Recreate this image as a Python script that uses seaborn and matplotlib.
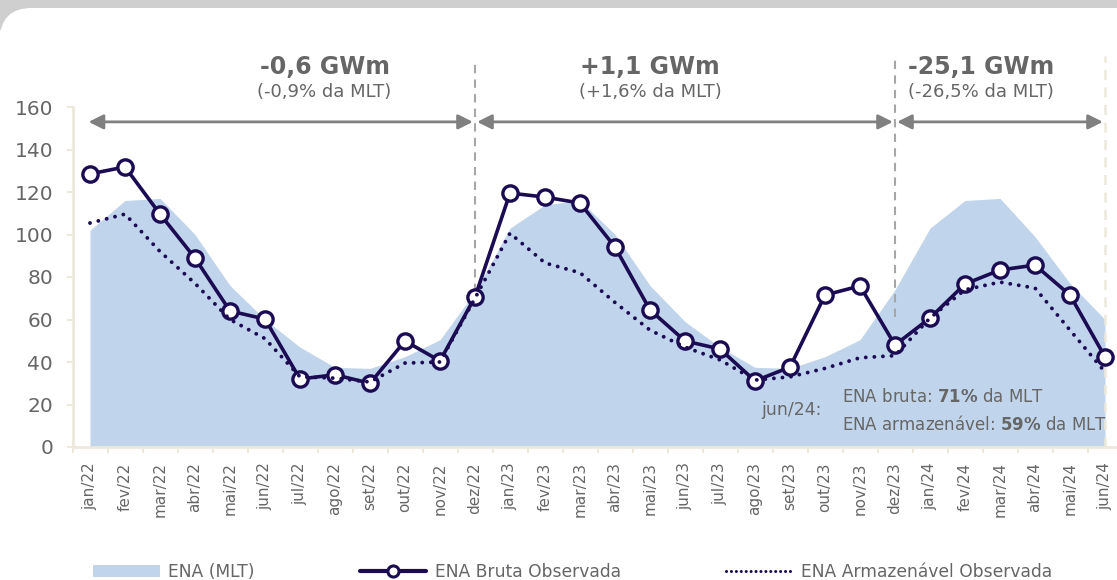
import numpy as np
import pandas as pd
import matplotlib
matplotlib.use("Agg")
import matplotlib.pyplot as plt
import seaborn as sns
from matplotlib.patches import Rectangle, FancyBboxPatch, Patch
from matplotlib.lines import Line2D
from matplotlib.transforms import IdentityTransform

# Data (GWm)
months = ["jan/22", "fev/22", "mar/22", "abr/22", "mai/22", "jun/22", "jul/22", "ago/22",
          "set/22", "out/22", "nov/22", "dez/22", "jan/23", "fev/23", "mar/23", "abr/23",
          "mai/23", "jun/23", "jul/23", "ago/23", "set/23", "out/23", "nov/23", "dez/23",
          "jan/24", "fev/24", "mar/24", "abr/24", "mai/24", "jun/24"]
ena_mlt = [102, 116, 117, 100, 76, 60, 47, 37.5, 37, 42.5, 50.5, 73,
           103, 114, 116, 100, 76, 59, 47, 37.5, 37, 42.5, 50.5, 74,
           103, 116, 117, 99, 77, 60]
ena_bruta = [128.5, 131.8, 109.6, 88.9, 64, 60.2, 32, 34, 30, 49.9, 40.5, 70.6,
             119.5, 117.6, 114.8, 94.1, 64.5, 49.9, 46.1, 31.1, 37.6, 71.5, 75.8, 48,
             60.7, 76.7, 83.3, 85.6, 71.5, 42.4]
ena_armaz = [105.4, 109.6, 92, 77, 60, 51, 33, 32.4, 30.6, 39.5, 40, 70,
             100.6, 86.6, 82, 68, 55, 47, 41, 31.5, 33, 37, 42, 43,
             60.7, 74, 77.6, 74.8, 55, 35.3]

# bracket annotations
period_bounds = [(0, 11), (11, 23), (23, 29)]
period_delta = ["-0,6 GWm", "+1,1 GWm", "-25,1 GWm"]
period_pct = ["(-0,9% da MLT)", "(+1,6% da MLT)", "(-26,5% da MLT)"]
period_text_x = [6.7, 16.0, 25.45]

navy = "#1a0b52"
area_col = "#c0d5ec"
txt_col = "#666666"
beige = "#ece8dc"

sns.set_theme(style="white")
plt.rcParams["font.family"] = ["DejaVu Sans"]

df = pd.DataFrame({"idx": np.arange(len(months)), "mlt": ena_mlt,
                   "bruta": ena_bruta, "armaz": ena_armaz})

fig = plt.figure(figsize=(11.17, 5.80), dpi=100)
fig.patch.set_facecolor("white")
# grey header band + white card with rounded corner
fig.add_artist(Rectangle((0, 550), 1117, 30, transform=IdentityTransform(),
                         facecolor="#cfcfcf", edgecolor="none", zorder=-3))
fig.add_artist(FancyBboxPatch((0, -60), 1300, 632, transform=IdentityTransform(),
                              boxstyle="round,pad=0,rounding_size=32",
                              facecolor="white", edgecolor="none", zorder=-2))

ax = fig.add_axes([72.5 / 1117, 133 / 580, 1050 / 1117, 340 / 580])
ax.set_facecolor("none")

ax.fill_between(df["idx"], df["mlt"], color=area_col, lw=0, zorder=1)
sns.lineplot(data=df, x="idx", y="bruta", ax=ax, color=navy, lw=2.6, marker="o",
             markersize=11, markerfacecolor="white", markeredgecolor=navy,
             markeredgewidth=2.4, zorder=3)
sns.lineplot(data=df, x="idx", y="armaz", ax=ax, color=navy, lw=2.8,
             linestyle=(0, (0.01, 2.2)), dash_capstyle="round", zorder=4)

ax.set_xlim(-0.5, len(months) - 0.5)
ax.set_ylim(0, 160)
ax.set_yticks(range(0, 161, 20))
ax.set_xticks(df["idx"])
ax.set_xticklabels(months, rotation=90)
ax.set_xticks(np.arange(-0.5, len(months), 1), minor=True)
ax.set_xlabel("")
ax.set_ylabel("")
ax.tick_params(axis="x", which="major", length=0, pad=11, labelsize=11, labelcolor=txt_col)
ax.tick_params(axis="x", which="minor", length=4, width=1.5, color=beige, bottom=True)
ax.tick_params(axis="y", length=4, width=1.5, color=beige, left=True, pad=10,
               labelsize=14.5, labelcolor=txt_col)
for s in ["top", "right"]:
    ax.spines[s].set_visible(False)
for s in ["left", "bottom"]:
    ax.spines[s].set_color(beige)
    ax.spines[s].set_linewidth(2)

# period separators and brackets
for xv, ybot in [(11, 73), (23, 61)]:
    ax.plot([xv, xv], [ybot, 182], color="#a6a6a6", lw=1.5, ls=(0, (4, 3)),
            clip_on=False, zorder=2)
ax.plot([29, 29], [0, 184], color=beige, lw=1.8, ls=(0, (4, 3)), clip_on=False, zorder=2)

for (a, b), d, p, tx in zip(period_bounds, period_delta, period_pct, period_text_x):
    ax.annotate("", xy=(b - 0.06, 153), xytext=(a + 0.06 - (0.1 if a == 0 else 0), 153),
                arrowprops=dict(arrowstyle="<|-|>", color="#808080", lw=2,
                                mutation_scale=22, shrinkA=0, shrinkB=0),
                annotation_clip=False)
    ax.text(tx, 178.8, d, ha="center", va="center", fontsize=17, fontweight="bold",
            color=txt_col, clip_on=False)
    ax.text(tx, 167, p, ha="center", va="center", fontsize=13, color=txt_col, clip_on=False)

ax.text(20.03, 17.4, "jun/24:", ha="center", va="center", fontsize=12.5, color=txt_col)
ax.text(21.5, 23.5, r"ENA bruta: $\bf{71\%}$ da MLT", ha="left", va="center",
        fontsize=12, color=txt_col)
ax.text(21.5, 10.8, r"ENA armazenável: $\bf{59\%}$ da MLT", ha="left", va="center",
        fontsize=12, color=txt_col)

handles = [Patch(facecolor=area_col, edgecolor="none"),
           Line2D([], [], color=navy, lw=3, marker="o", markersize=8,
                  markerfacecolor="white", markeredgecolor=navy, markeredgewidth=2.2),
           Line2D([], [], color=navy, lw=2.2, linestyle=(0, (0.01, 1.6)),
                  dash_capstyle="round")]
labels = ["ENA (MLT)", "ENA Bruta Observada", "ENA Armazenável Observada"]
fig.legend(handles, labels, loc="center left", bbox_to_anchor=(93 / 1117, 1 - 572 / 580),
           ncol=3, frameon=False, fontsize=12.3, handlelength=3.9, handletextpad=0.5,
           columnspacing=6.15, borderpad=0, borderaxespad=0, labelcolor=txt_col)

fig.savefig("out.png", dpi=100)
